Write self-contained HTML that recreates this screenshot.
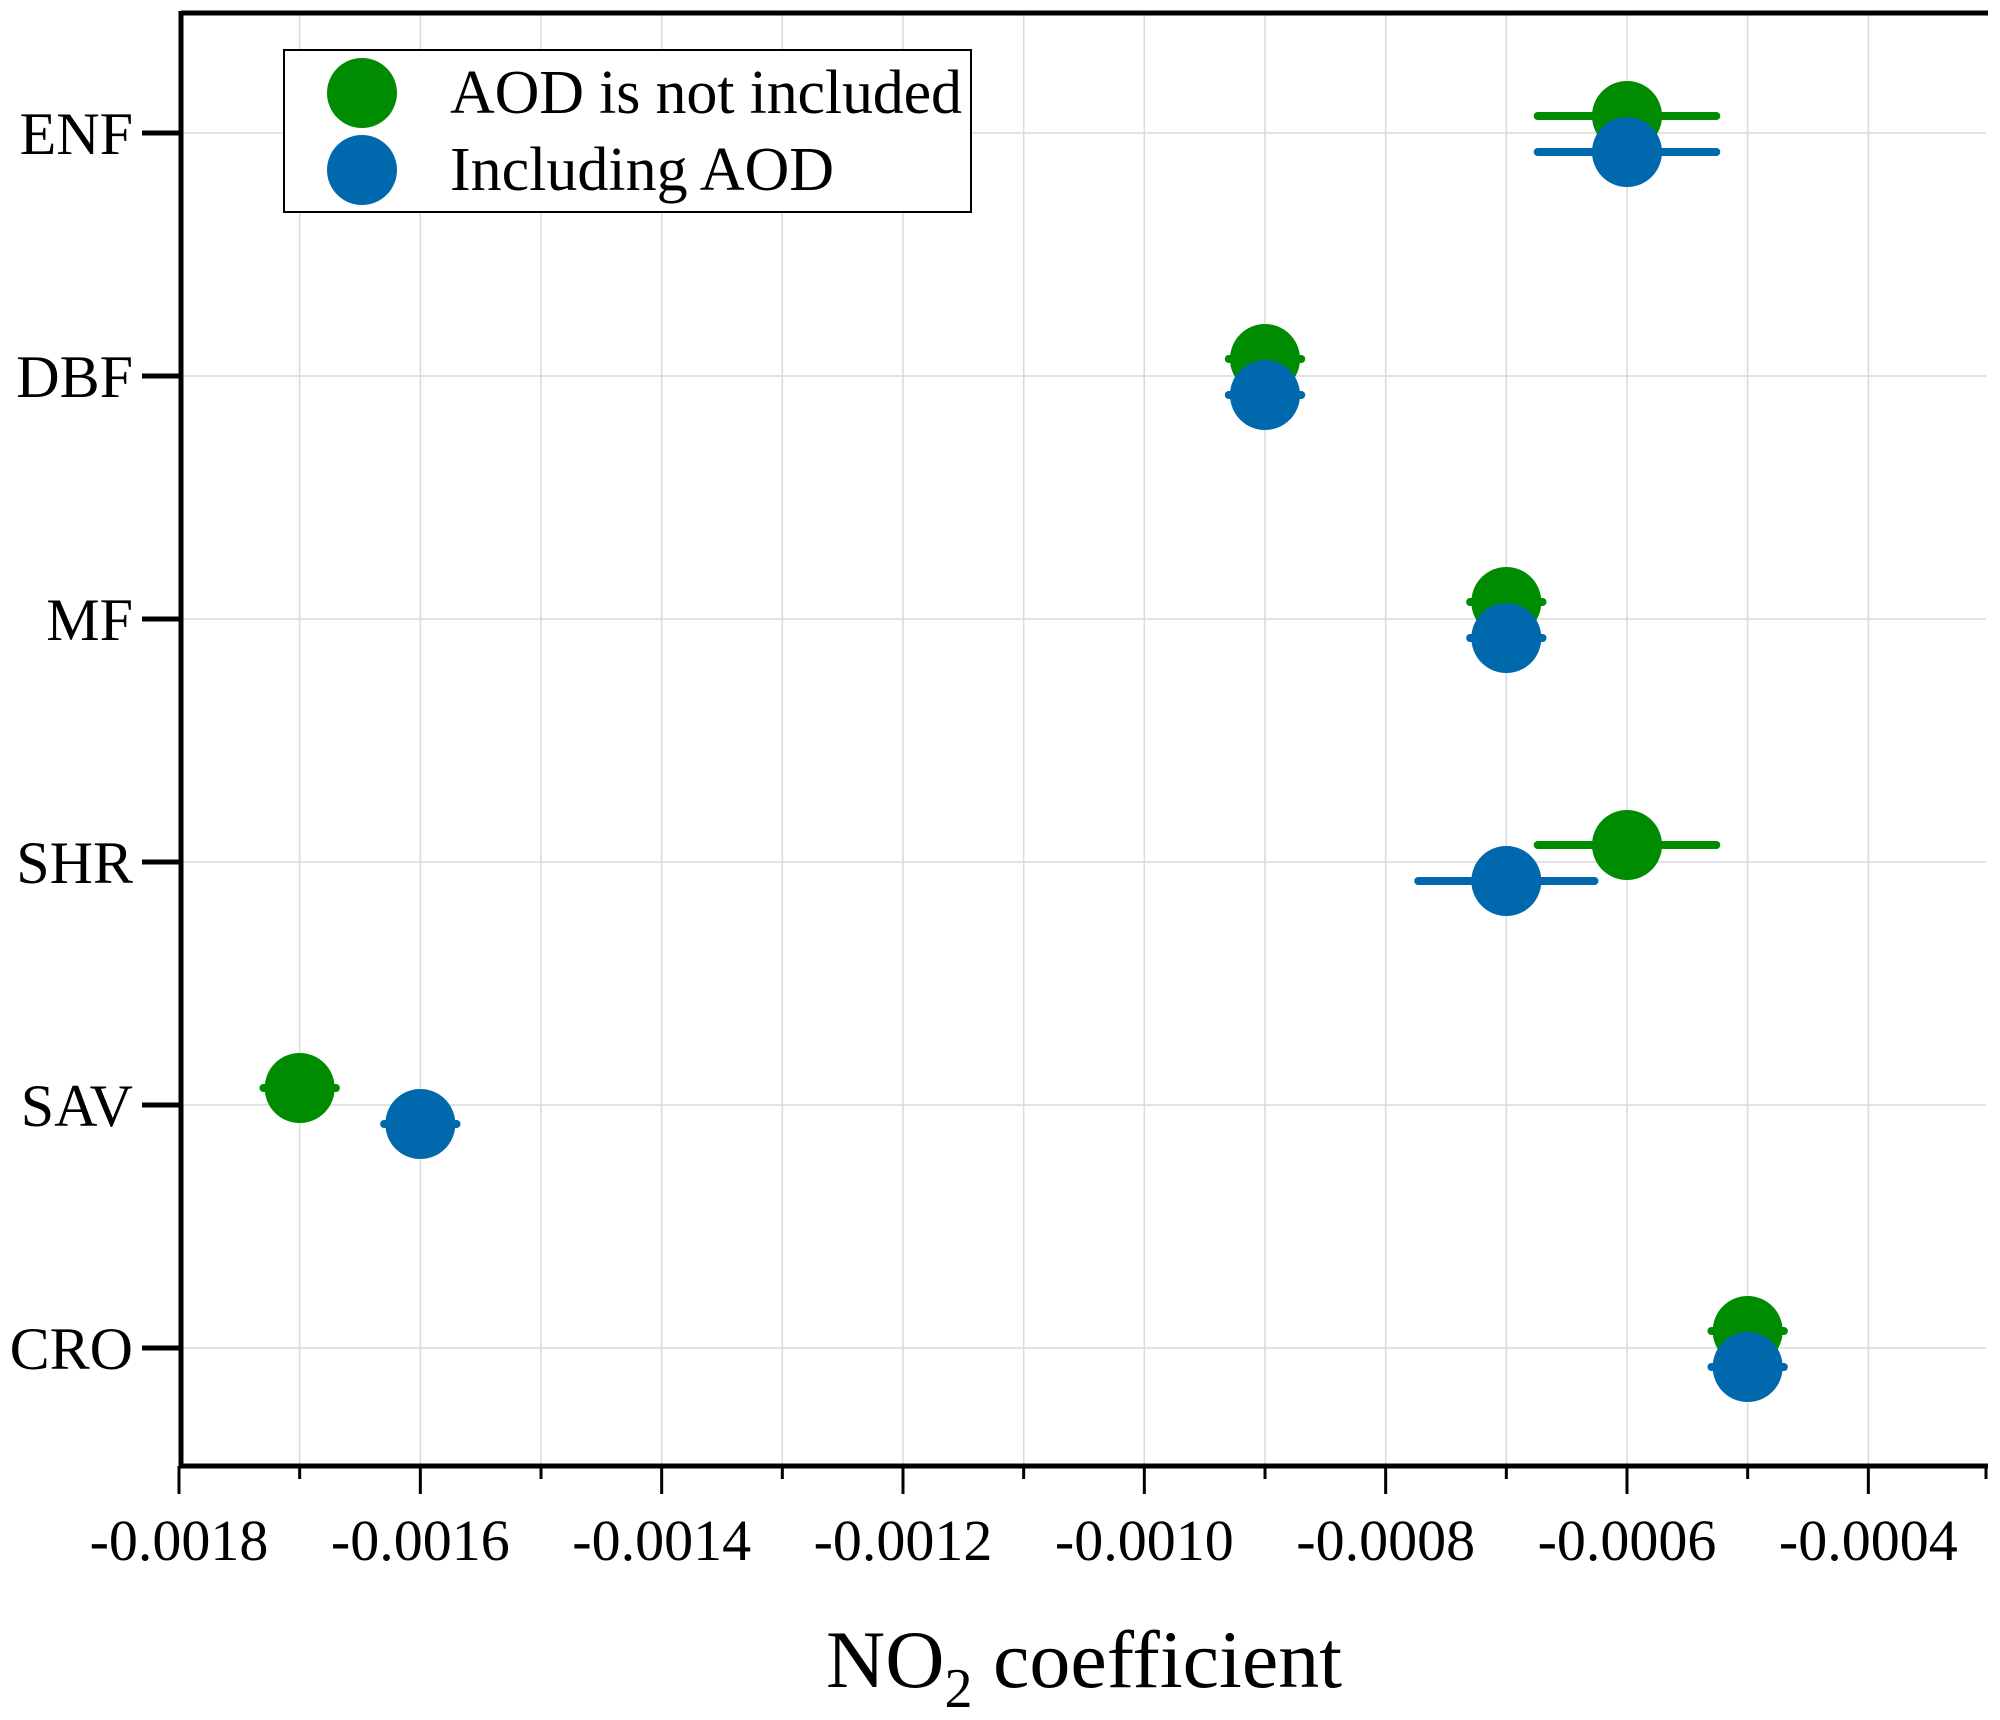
<!DOCTYPE html>
<html><head><meta charset="utf-8"><style>
html,body{margin:0;padding:0;background:#fff;}
svg text{font-family:"Liberation Serif",serif;fill:#000;}
</style></head><body>
<svg id="chart" width="2000" height="1715" viewBox="0 0 2000 1715" xmlns="http://www.w3.org/2000/svg">
<g id="grid"></g>
<g id="marks"></g>
<g id="axes"></g>
<g>
<rect x="284" y="50" width="687" height="162" fill="#fff" stroke="#000" stroke-width="2"/>
<circle cx="362" cy="93" r="35" fill="#008c00"/>
<text x="450" y="113" font-size="62" textLength="512">AOD is not included</text>
<circle cx="362" cy="170" r="35" fill="#0068ad"/>
<text x="450" y="190" font-size="62">Including AOD</text>
</g>
<text x="1084" y="1687" font-size="82" text-anchor="middle">NO<tspan font-size="56" dy="20">2</tspan><tspan dy="-20"> coefficient</tspan></text>
</svg>
<script>
const categories = ["ENF","DBF","MF","SHR","SAV","CRO"];
const noAodValues = [-0.0006,-0.0009,-0.0007,-0.0006,-0.0017,-0.0005];
const noAodErrors = [0.000074,0.00003,0.00003,0.000074,0.00003,0.00003];
const withAodValues = [-0.0006,-0.0009,-0.0007,-0.0007,-0.0016,-0.0005];
const withAodErrors = [0.000074,0.00003,0.00003,0.000073,0.00003,0.00003];
const xTickLabels = ["-0.0018","-0.0016","-0.0014","-0.0012","-0.0010","-0.0008","-0.0006","-0.0004"];
const xTickValues = [-0.0018,-0.0016,-0.0014,-0.0012,-0.0010,-0.0008,-0.0006,-0.0004];

const NS="http://www.w3.org/2000/svg";
const X0=-0.0018, X1=-0.0003, PX0=179, PX1=1989;
const xs = v => PX0 + (v-X0)/(X1-X0)*(PX1-PX0);
const ys = i => 133 + i*243;
const TOP=13, BOT=1466, LEFT=181, RIGHT=1986;
function mk(tag,attrs,parent){const e=document.createElementNS(NS,tag);for(const k in attrs)e.setAttribute(k,attrs[k]);parent.appendChild(e);return e;}
const grid=document.getElementById('grid'), marks=document.getElementById('marks'), axes=document.getElementById('axes');

for(let k=0;k<=15;k++){
  const v=X0+k*0.0001, x=xs(v);
  if(x<LEFT+2||x>RIGHT)continue;
  const l=mk('line',{x1:x,x2:x,y1:TOP,y2:BOT,stroke:'#d9d9d9','stroke-width':1.5},grid);
  
  
}
categories.forEach((c,i)=>{
  const l=mk('line',{x1:LEFT,x2:RIGHT,y1:ys(i),y2:ys(i),stroke:'#d9d9d9','stroke-width':1.5},grid);
  
  
});

function series(vals,errs,color,off,name){
  vals.forEach((v,i)=>{
    const y=ys(i)+off;
    const e=mk('line',{x1:xs(v-errs[i]),x2:xs(v+errs[i]),y1:y,y2:y,stroke:color,'stroke-width':8,'stroke-linecap':'round'},marks);
    
    
    const p=mk('circle',{cx:xs(v),cy:y,r:35,fill:color},marks);
    
    
  });
}
series(noAodValues,noAodErrors,'#008c00',-17,'no-aod');
series(withAodValues,withAodErrors,'#0068ad',19,'with-aod');

let a=mk('line',{x1:LEFT,x2:LEFT,y1:TOP-2,y2:BOT+2,stroke:'#000','stroke-width':5},axes);

a=mk('line',{x1:LEFT,x2:RIGHT+2,y1:TOP,y2:TOP,stroke:'#000','stroke-width':5},axes);

a=mk('line',{x1:LEFT-2,x2:RIGHT+2,y1:BOT,y2:BOT,stroke:'#000','stroke-width':5},axes);


for(let k=0;k<=15;k++){
  const v=X0+k*0.0001, x=xs(v), major=(k%2===0);
  if(x>RIGHT+1)continue;
  const t=mk('line',{x1:x,x2:x,y1:BOT,y2:major?1494:1479,stroke:'#000','stroke-width':3},axes);
  
  
}
a=mk('line',{x1:RIGHT,x2:RIGHT,y1:BOT,y2:1479,stroke:'#000','stroke-width':3},axes);

xTickLabels.forEach((lab,i)=>{
  const t=mk('text',{x:xs(xTickValues[i]),y:1560,'font-size':58,'text-anchor':'middle'},axes);
  t.textContent=lab;
  
  
});
categories.forEach((c,i)=>{
  const t=mk('line',{x1:142,x2:LEFT,y1:ys(i),y2:ys(i),stroke:'#000','stroke-width':5},axes);
  
  
  const l=mk('text',{x:133,y:ys(i)+21,'font-size':60,'text-anchor':'end'},axes);
  l.textContent=c;
  
  
});
</script>
</body></html>
